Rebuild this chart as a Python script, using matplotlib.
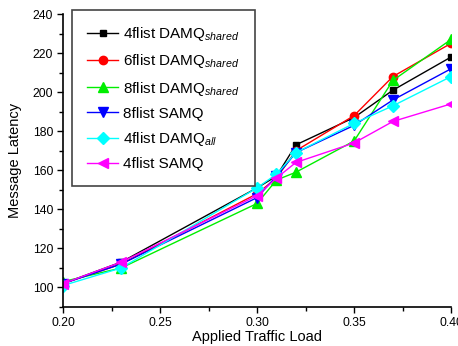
import matplotlib
matplotlib.use('Agg')
import matplotlib.pyplot as plt
from matplotlib.ticker import MultipleLocator

plt.rcParams['font.family'] = 'Liberation Sans'
plt.rcParams['mathtext.fontset'] = 'custom'
plt.rcParams['mathtext.rm'] = 'Liberation Sans'
plt.rcParams['mathtext.it'] = 'Liberation Sans:italic'

load = [0.20, 0.23, 0.30, 0.31, 0.32, 0.35, 0.37, 0.40]

dq4_shared = [102, 113, 151, 157, 173, 187, 201, 218]
dq6_shared = [102, 112, 148, 156, 170, 188, 208, 225]
dq8_shared = [103, 110, 143, 155, 159, 175, 206, 227]
samq8 = [102, 112, 146, 157, 169, 183, 196, 212]
dq4_all = [101, 110, 151, 158, 169, 184, 193, 208]
samq4 = [102, 113, 147, 156, 164, 174, 185, 194]

labels = ['4flist DAMQ$_{shared}$', '6flist DAMQ$_{shared}$', '8flist DAMQ$_{shared}$',
          '8flist SAMQ', '4flist DAMQ$_{all}$', '4flist SAMQ']
colors = ['black', 'red', '#00ee00', 'blue', 'cyan', 'magenta']
markers = ['s', 'o', '^', 'v', 'D', '<']
sizes = [5, 6, 7, 7, 6, 7]
series = [dq4_shared, dq6_shared, dq8_shared, samq8, dq4_all, samq4]

fig = plt.figure(figsize=(4.58, 3.46), dpi=100)
ax = fig.add_axes([0.1376, 0.1127, 0.8474, 0.8468])

for ys, lab, c, m, s in zip(series, labels, colors, markers, sizes):
    ax.plot(load, ys, color=c, marker=m, markersize=s, linewidth=1, label=lab)

ax.set_xlim(0.20, 0.40)
ax.set_ylim(90, 240)
ax.xaxis.set_major_locator(MultipleLocator(0.05))
ax.xaxis.set_minor_locator(MultipleLocator(0.025))
ax.yaxis.set_major_locator(MultipleLocator(20))
ax.yaxis.set_minor_locator(MultipleLocator(10))
ax.set_xticklabels([f'{v:.2f}' for v in ax.get_xticks()])
ax.tick_params(which='both', direction='out', labelsize=8.8, width=1)
ax.tick_params(which='major', length=4, pad=3)
ax.tick_params(which='minor', length=3)
for side in ['top', 'right']:
    ax.spines[side].set_visible(False)
ax.spines['left'].set_linewidth(1.2)
ax.spines['bottom'].set_linewidth(1.2)

ax.set_xlabel('Applied Traffic Load', fontsize=10.5, labelpad=1)
ax.set_ylabel('Message Latency', fontsize=10.5, labelpad=8)

leg = ax.legend(loc='upper left', bbox_to_anchor=(0.023, 1.014), borderaxespad=0,
                fontsize=11, handlelength=2.0, handletextpad=0.35, labelspacing=0.6,
                borderpad=1.0, fancybox=False, framealpha=1, edgecolor='#444444')
leg.get_frame().set_linewidth(1.2)

fig.savefig('out.png', dpi=100)
